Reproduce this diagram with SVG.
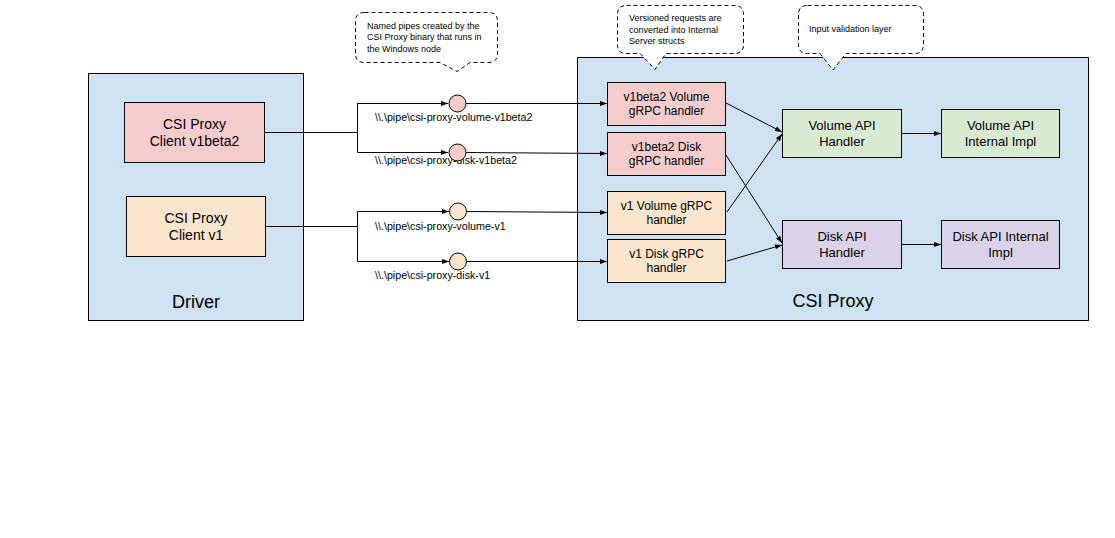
<svg xmlns="http://www.w3.org/2000/svg" width="1115" height="538" viewBox="0 0 1115 538">
<defs>
<marker id="ah" markerUnits="userSpaceOnUse" markerWidth="8" markerHeight="8" viewBox="0 0 8 8" refX="7.5" refY="4" orient="auto">
<path d="M0.5,1.5 L7.5,4 L0.5,6.5 Z" fill="#000"/>
</marker>
</defs>
<style>
text{font-family:"Liberation Sans",Arial,sans-serif;fill:#000;}
.cont{fill:#cfe2f3;stroke:#000;stroke-width:1;}
.pink{fill:#f4cccc;stroke:#000;stroke-width:1;}
.orng{fill:#fce5cd;stroke:#000;stroke-width:1;}
.grn{fill:#d9ead3;stroke:#000;stroke-width:1;}
.purp{fill:#d9d2e9;stroke:#000;stroke-width:1;}
.ln{fill:none;stroke:#000;stroke-width:1;}
.arr{fill:none;stroke:#000;stroke-width:1;marker-end:url(#ah);}
.call{fill:#fff;stroke:#000;stroke-width:1;stroke-dasharray:4 3;}
.t14{font-size:14px;text-anchor:middle;}
.t12{font-size:12px;text-anchor:middle;}
.t13{font-size:13px;text-anchor:middle;}
.t18{font-size:18px;text-anchor:middle;}
.pipe{font-size:10.7px;}
.c9{font-size:9px;}
</style>

<g id="driver">
<rect class="cont" x="88.5" y="73.5" width="215" height="247"/>
<text class="t18" x="196" y="308">Driver</text>
</g>
<g id="csi-proxy">
<rect class="cont" x="577.5" y="57.5" width="511" height="263"/>
<text class="t18" x="833" y="307">CSI Proxy</text>
</g>

<g id="connectors">
<polyline class="ln" points="264,132.5 357.5,132.5"/>
<polyline class="arr" points="357.5,103.5 357.5,152.5 448,152.5"/>
<polyline class="arr" points="357.5,132.5 357.5,103.5 448,103.5"/>
<polyline class="ln" points="265,226.5 357.5,226.5"/>
<polyline class="arr" points="357.5,226.5 357.5,211.5 449,211.5"/>
<polyline class="arr" points="357.5,226.5 357.5,261.5 449,261.5"/>
<line class="arr" x1="466" y1="103.5" x2="607" y2="103.5"/>
<line class="arr" x1="466" y1="152.5" x2="607" y2="153.5"/>
<line class="arr" x1="467" y1="211.5" x2="607" y2="212.5"/>
<line class="arr" x1="467" y1="261.5" x2="607" y2="261.5"/>
<line class="arr" x1="726" y1="103" x2="782" y2="132"/>
<line class="arr" x1="726" y1="155" x2="782" y2="243"/>
<line class="arr" x1="727" y1="212" x2="782" y2="134"/>
<line class="arr" x1="727" y1="261" x2="782" y2="245"/>
<line class="arr" x1="901" y1="133.5" x2="941" y2="133.5"/>
<line class="arr" x1="901" y1="244.5" x2="941" y2="244.5"/>
</g>

<g id="pipe-labels">
<text class="pipe" x="375" y="121">\\.\pipe\csi-proxy-volume-v1beta2</text>
<text class="pipe" x="375" y="164">\\.\pipe\csi-proxy-disk-v1beta2</text>
<text class="pipe" x="375" y="230">\\.\pipe\csi-proxy-volume-v1</text>
<text class="pipe" x="375" y="279">\\.\pipe\csi-proxy-disk-v1</text>
</g>

<g id="pipe-volume-v1beta2"><circle class="pink" cx="457.5" cy="103.5" r="8.5"/></g>
<g id="pipe-disk-v1beta2"><circle class="pink" cx="457.5" cy="152.5" r="8.5"/></g>
<g id="pipe-volume-v1"><circle class="orng" cx="458" cy="211.5" r="8.5"/></g>
<g id="pipe-disk-v1"><circle class="orng" cx="458" cy="261.5" r="8.5"/></g>

<g id="client-v1beta2">
<rect class="pink" x="124.5" y="102.5" width="140" height="60"/>
<text class="t14" x="194.5" y="129">CSI Proxy</text>
<text class="t14" x="194.5" y="146">Client v1beta2</text>
</g>
<g id="client-v1">
<rect class="orng" x="126.5" y="196.5" width="139" height="60"/>
<text class="t14" x="196" y="223">CSI Proxy</text>
<text class="t14" x="196" y="240">Client v1</text>
</g>

<g id="v1beta2-volume-handler">
<rect class="pink" x="607.5" y="82.5" width="118" height="43"/>
<text class="t12" x="666.5" y="100.5">v1beta2 Volume</text>
<text class="t12" x="666.5" y="115">gRPC handler</text>
</g>
<g id="v1beta2-disk-handler">
<rect class="pink" x="607.5" y="132.5" width="118" height="43"/>
<text class="t12" x="666.5" y="150.5">v1beta2 Disk</text>
<text class="t12" x="666.5" y="165">gRPC handler</text>
</g>
<g id="v1-volume-handler">
<rect class="orng" x="607.5" y="191.5" width="118" height="43"/>
<text class="t12" x="666.5" y="209.5">v1 Volume gRPC</text>
<text class="t12" x="666.5" y="224">handler</text>
</g>
<g id="v1-disk-handler">
<rect class="orng" x="607.5" y="239.5" width="118" height="43"/>
<text class="t12" x="666.5" y="257.5">v1 Disk gRPC</text>
<text class="t12" x="666.5" y="272">handler</text>
</g>

<g id="volume-api-handler">
<rect class="grn" x="782.5" y="109.5" width="119" height="48"/>
<text class="t13" x="842" y="129.5">Volume API</text>
<text class="t13" x="842" y="145.5">Handler</text>
</g>
<g id="volume-api-impl">
<rect class="grn" x="941.5" y="109.5" width="118" height="48"/>
<text class="t13" x="1000.5" y="129.5">Volume API</text>
<text class="t13" x="1000.5" y="145.5">Internal Impl</text>
</g>
<g id="disk-api-handler">
<rect class="purp" x="782.5" y="220.5" width="119" height="48"/>
<text class="t13" x="842" y="240.5">Disk API</text>
<text class="t13" x="842" y="256.5">Handler</text>
</g>
<g id="disk-api-impl">
<rect class="purp" x="941.5" y="220.5" width="118" height="48"/>
<text class="t13" x="1000.5" y="240.5">Disk API Internal</text>
<text class="t13" x="1000.5" y="256.5">Impl</text>
</g>

<g id="callout-pipes">
<path class="call" d="M364.5,12.5 H488.5 Q497.5,12.5 497.5,21.5 V53.5 Q497.5,62.5 488.5,62.5 H470 L457,71.5 L440,62.5 H364.5 Q355.5,62.5 355.5,53.5 V21.5 Q355.5,12.5 364.5,12.5 Z"/>
<text class="c9" x="367" y="28.5">Named pipes created by the</text>
<text class="c9" x="367" y="40">CSI Proxy binary that runs in</text>
<text class="c9" x="367" y="51.5">the Windows node</text>
</g>
<g id="callout-versioned">
<path class="call" d="M626.5,5.5 H734.5 Q743.5,5.5 743.5,14.5 V44.5 Q743.5,53.5 734.5,53.5 H666 L655,69.5 L640,53.5 H626.5 Q617.5,53.5 617.5,44.5 V14.5 Q617.5,5.5 626.5,5.5 Z"/>
<text class="c9" x="629" y="21">Versioned requests are</text>
<text class="c9" x="629" y="32.5">converted into Internal</text>
<text class="c9" x="629" y="44">Server structs</text>
</g>
<g id="callout-validation">
<path class="call" d="M807.5,5.5 H914.5 Q923.5,5.5 923.5,14.5 V44.5 Q923.5,53.5 914.5,53.5 H846 L833,70 L820,53.5 H807.5 Q798.5,53.5 798.5,44.5 V14.5 Q798.5,5.5 807.5,5.5 Z"/>
<text class="c9" x="809" y="32">Input validation layer</text>
</g>
</svg>
